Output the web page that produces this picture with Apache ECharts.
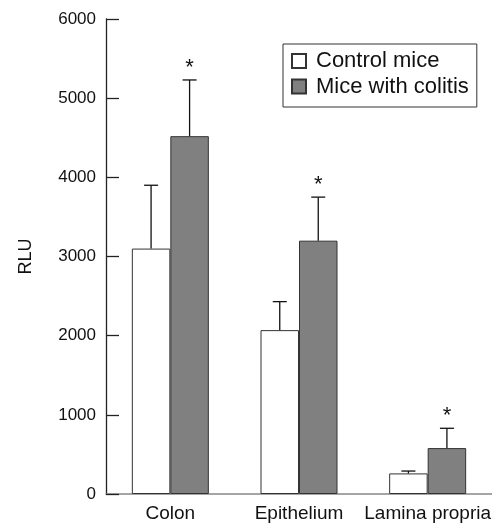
<!DOCTYPE html>
<html>
<head>
<meta charset="utf-8">
<script src="https://cdn.jsdelivr.net/npm/echarts@6/dist/echarts.min.js"></script>
<style>
  html, body { margin: 0; padding: 0; background: #fff; }
  #chart { width: 492px; height: 523px; }
</style>
</head>
<body>
<div id="chart"></div>
<script>
const categories = ["Colon", "Epithelium", "Lamina propria"];
const controlMean = [3100, 2070, 260];
const controlErr = [3900, 2430, 290];
const colitisMean = [4520, 3200, 580];
const colitisErr = [5230, 3750, 830];
const colitisSig = [true, true, true];
const yTicks = [0, 1000, 2000, 3000, 4000, 5000, 6000];

const FONT = "Liberation Sans, Arial, sans-serif";
const BAR_W = 38.5;

const chart = echarts.init(document.getElementById("chart"));

// 오차막대 + 별표 그리기
function errorBar(offset) {
  return function (params, api) {
    const x = api.coord([api.value(0), 0])[0] + offset;
    const yBar = api.coord([api.value(0), api.value(1)])[1];
    const yTop = api.coord([api.value(0), api.value(2)])[1];
    const children = [
      { type: "line", shape: { x1: x, y1: yBar, x2: x, y2: yTop }, style: { stroke: "#111", lineWidth: 1.3 } },
      { type: "line", shape: { x1: x - 7, y1: yTop, x2: x + 7, y2: yTop }, style: { stroke: "#111", lineWidth: 1.3 } },
    ];
    if (api.value(3)) {
      children.push({
        type: "text",
        x: x, y: yTop - 1,
        style: { text: "*", font: "22px " + FONT, fill: "#111", align: "center", verticalAlign: "bottom" },
      });
    }
    return { type: "group", children: children };
  };
}

const option = {
  animation: false,
  grid: { left: 106, right: 0, top: 19, bottom: 29, outerBoundsMode: "none" },
  legend: {
    orient: "vertical",
    left: 283,
    top: 44,
    padding: [6, 8, 9.5, 8],
    itemGap: 3.5,
    itemWidth: 14,
    itemHeight: 14,
    icon: "rect",
    borderColor: "#333",
    borderWidth: 1,
    textStyle: { fontFamily: FONT, fontSize: 22, color: "#111", lineHeight: 22, padding: [0, 0, 0, 5] },
    data: ["Control mice", "Mice with colitis"],
  },
  xAxis: {
    type: "category",
    data: categories,
    axisLine: { lineStyle: { color: "#888", width: 1.5 } },
    axisTick: { show: false },
    axisLabel: { interval: 0, fontFamily: FONT, fontSize: 19, color: "#111", margin: 10 },
  },
  yAxis: {
    type: "value",
    min: 0,
    max: 6000,
    interval: 1000,
    name: "RLU",
    nameLocation: "middle",
    nameGap: 71,
    nameTextStyle: { fontFamily: FONT, fontSize: 18, color: "#111" },
    axisLine: { show: true, lineStyle: { color: "#222", width: 1.3 } },
    axisTick: { show: true, inside: true, length: 13, lineStyle: { color: "#222", width: 1.3 } },
    splitLine: { show: false },
    axisLabel: {
      fontFamily: FONT, fontSize: 17, color: "#111", margin: 10,
      formatter: (v) => (yTicks.includes(v) ? String(v) : ""),
    },
  },
  series: [
    {
      name: "Control mice",
      type: "bar",
      data: controlMean,
      barWidth: BAR_W,
      barGap: "0%",
      itemStyle: { color: "#ffffff", borderColor: "#333", borderWidth: 1 },
    },
    {
      name: "Mice with colitis",
      type: "bar",
      data: colitisMean,
      barWidth: BAR_W,
      barGap: "0%",
      itemStyle: { color: "#808080", borderColor: "#333", borderWidth: 1 },
    },
    {
      type: "custom",
      renderItem: errorBar(-BAR_W / 2),
      data: categories.map((c, i) => [i, controlMean[i], controlErr[i], 0]),
      z: 5,
    },
    {
      type: "custom",
      renderItem: errorBar(BAR_W / 2),
      data: categories.map((c, i) => [i, colitisMean[i], colitisErr[i], colitisSig[i] ? 1 : 0]),
      z: 5,
    },
  ],
};

chart.setOption(option);
</script>
</body>
</html>
